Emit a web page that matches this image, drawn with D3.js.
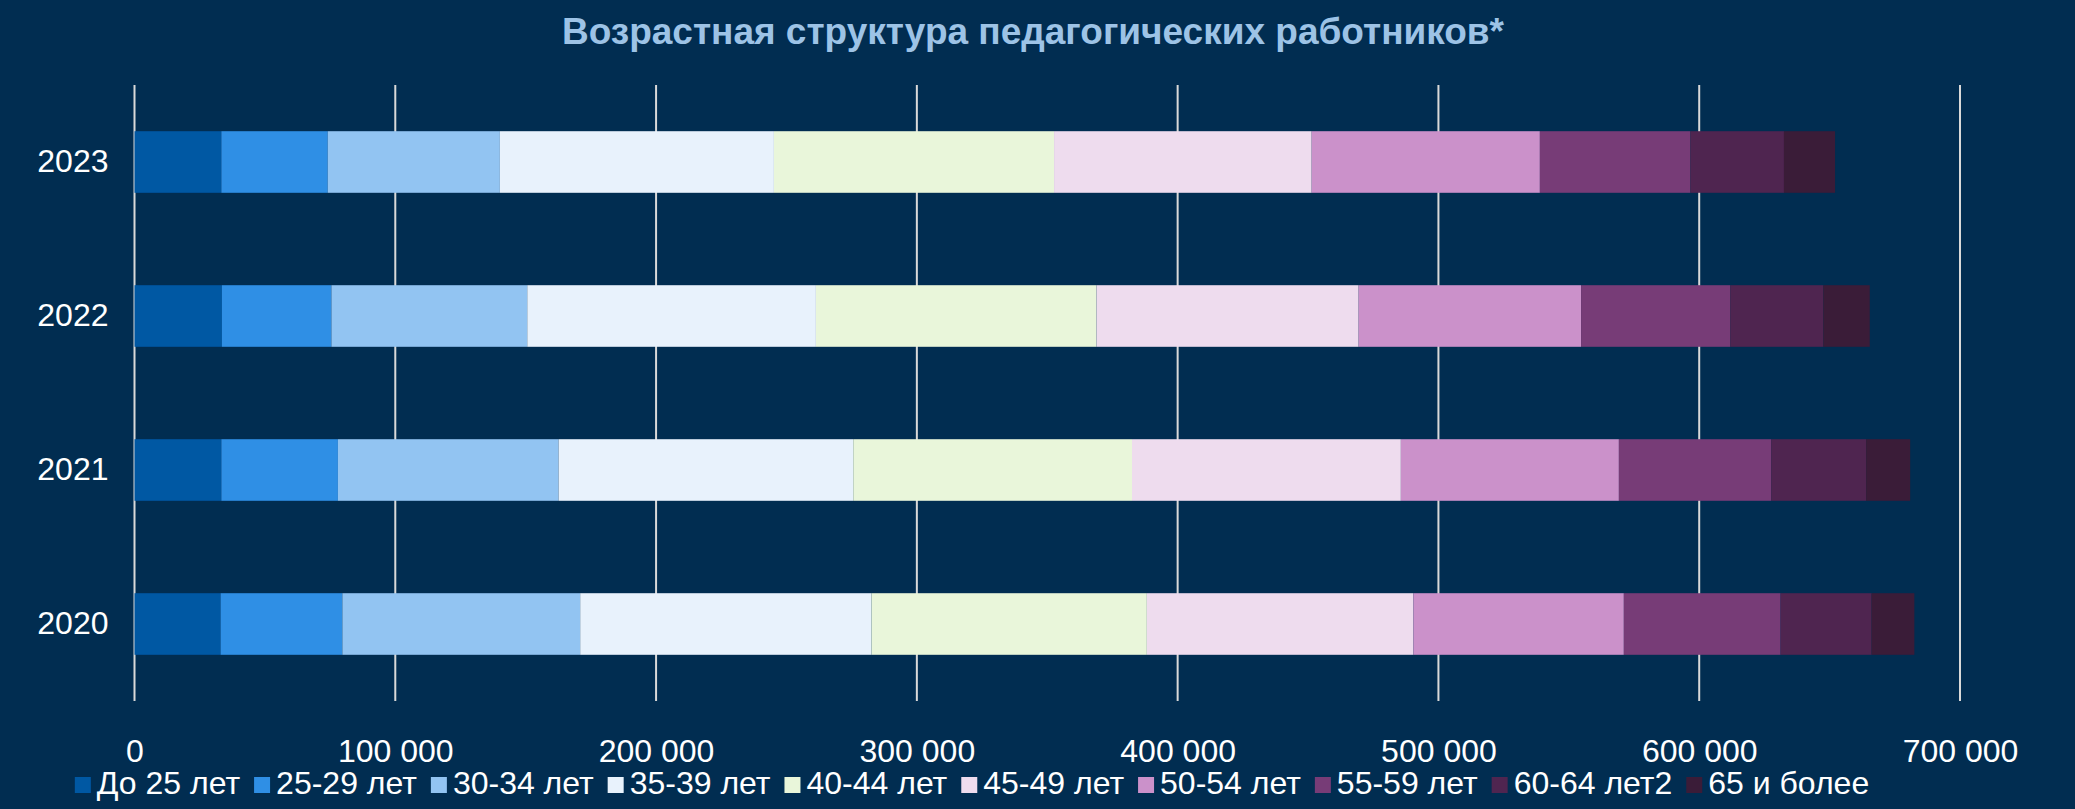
<!DOCTYPE html>
<html>
<head>
<meta charset="utf-8">
<script src="https://cdn.jsdelivr.net/npm/d3@7"></script>
<style>
  html, body { margin: 0; padding: 0; background: #012d51; }
  svg { display: block; font-family: "Liberation Sans", Arial, sans-serif; }
</style>
</head>
<body>
<svg id="chart"></svg>
<script>
// years, bottom to top in the picture
var years = ["2020", "2021", "2022", "2023"];

var groups = ["До 25 лет", "25-29 лет", "30-34 лет", "35-39 лет", "40-44 лет",
              "45-49 лет", "50-54 лет", "55-59 лет", "60-64 лет2", "65 и более"];

// values per age group, in the order of years
var under25 = [33000, 33300, 33500, 33300];
var age25_29 = [46700, 44700, 42000, 40800];
var age30_34 = [91200, 84600, 75100, 66000];
var age35_39 = [111700, 113000, 110700, 105100];
var age40_44 = [105600, 106900, 107600, 107400];
var age45_49 = [102200, 103100, 100500, 98800];
var age50_54 = [80700, 83600, 85300, 87500];
var age55_59 = [60100, 58400, 57200, 57700];
var age60_64 = [34900, 36400, 35700, 35900];
var age65plus = [16400, 16900, 17800, 19600];

var xTicks = [0, 100000, 200000, 300000, 400000, 500000, 600000, 700000];

var colors = ["#0058a3", "#2f8fe5", "#92c4f2", "#e8f2fc", "#e9f6da",
              "#eedcee", "#cb91ca", "#773c77", "#4f2550", "#3a1c38"];

var series = [under25, age25_29, age30_34, age35_39, age40_44,
              age45_49, age50_54, age55_59, age60_64, age65plus];

var width = 2075, height = 809;
var margin = {top: 85, right: 115, bottom: 108, left: 134.5};

var svg = d3.select("#chart")
    .attr("width", width)
    .attr("height", height);

// build rows for the stack
var rows = years.map(function(y, i) {
    var r = {year: y};
    groups.forEach(function(g, k) { r[g] = series[k][i]; });
    return r;
});
var stacked = d3.stack().keys(groups)(rows);

var x = d3.scaleLinear()
    .domain([0, 700000])
    .range([margin.left, width - margin.right]);

var y = d3.scaleBand()
    .domain(years.slice().reverse())
    .range([margin.top, height - margin.bottom])
    .paddingInner(0.6)
    .paddingOuter(0.3);

var ru = d3.formatLocale({decimal: ",", thousands: "\u00a0", grouping: [3], currency: ["", ""]});
var fmt = ru.format(",d");

// gridlines
svg.append("g")
    .selectAll("line")
    .data(xTicks)
    .enter().append("line")
    .attr("x1", function(d) { return x(d); })
    .attr("x2", function(d) { return x(d); })
    .attr("y1", margin.top)
    .attr("y2", height - margin.bottom)
    .attr("stroke", "#d9d9d9")
    .attr("stroke-width", 2);

// bars
svg.append("g")
    .selectAll("g")
    .data(stacked)
    .enter().append("g")
    .attr("fill", function(d, i) { return colors[i]; })
    .selectAll("rect")
    .data(function(d) { return d; })
    .enter().append("rect")
    .attr("x", function(d) { return x(d[0]); })
    .attr("y", function(d) { return y(d.data.year); })
    .attr("width", function(d) { return x(d[1]) - x(d[0]); })
    .attr("height", y.bandwidth());

// x axis labels
var xAxis = svg.append("g")
    .attr("transform", "translate(0," + (height - margin.bottom) + ")")
    .call(d3.axisBottom(x).tickValues(xTicks).tickFormat(fmt).tickSize(0).tickPadding(38));
xAxis.select(".domain").remove();
xAxis.selectAll("text")
    .attr("fill", "#ffffff")
    .style("font-size", "32px")
    .style("font-family", "'Liberation Sans', Arial, sans-serif");

// y axis labels
var yAxis = svg.append("g")
    .attr("transform", "translate(" + margin.left + ",0)")
    .call(d3.axisLeft(y).tickSize(0).tickPadding(26));
yAxis.select(".domain").remove();
yAxis.selectAll("text")
    .attr("fill", "#ffffff")
    .style("font-size", "32px")
    .style("font-family", "'Liberation Sans', Arial, sans-serif");

// title
svg.append("text")
    .attr("x", 1033)
    .attr("y", 44)
    .attr("text-anchor", "middle")
    .attr("fill", "#9dc3e6")
    .style("font-size", "37px")
    .style("font-weight", "bold")
    .text("Возрастная структура педагогических работников*");

// legend
var legend = svg.append("g").attr("transform", "translate(0,794)");
var lx = 0;
groups.forEach(function(g, i) {
    var item = legend.append("g").attr("transform", "translate(" + lx + ",0)");
    item.append("rect")
        .attr("x", 0).attr("y", -17)
        .attr("width", 16).attr("height", 16)
        .attr("fill", colors[i]);
    var t = item.append("text")
        .attr("x", 22).attr("y", 0)
        .attr("fill", "#ffffff")
        .style("font-size", "32px")
        .text(g);
    lx += 22 + t.node().getComputedTextLength() + 14;
});
var legendW = lx - 14;
legend.attr("transform", "translate(" + (972 - legendW / 2) + ",794)");
</script>
</body>
</html>
